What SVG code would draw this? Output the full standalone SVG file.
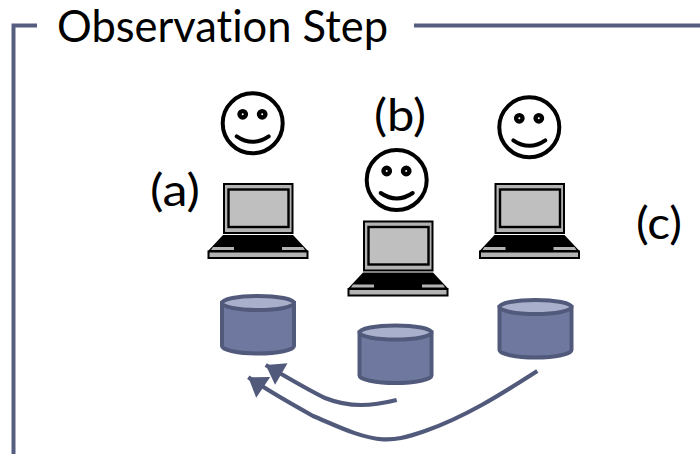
<svg xmlns="http://www.w3.org/2000/svg" width="700" height="454" viewBox="0 0 700 454">
<style>
text{font-family:"Lato","Open Sans","Liberation Sans",sans-serif;font-size:44px;fill:#000;font-variant-ligatures:none}
.frame{fill:none;stroke:#565e80;stroke-width:4}
.conn{fill:none;stroke:#525a7c;stroke-width:4.2;marker-end:url(#ah)}
.face{fill:#fff;stroke:#000;stroke-width:4}
.eye{fill:#fff;stroke:#000;stroke-width:4.4}
.mouth{fill:none;stroke:#000;stroke-width:4;stroke-linecap:round}
.lid{fill:#b3b3b3;stroke:#000;stroke-width:2}
.scr{fill:#bfbfbf;stroke:#000;stroke-width:2.4}
.kb{fill:#000}
.slab{fill:#b3b3b3;stroke:#000;stroke-width:2}
.cb{fill:#6f799f;stroke:#525a7c;stroke-width:4}
.ct{fill:#a9b0cb;stroke:#525a7c;stroke-width:4}
</style>
<defs>
<marker id="ah" markerUnits="userSpaceOnUse" markerWidth="24" markerHeight="28" refX="18" refY="12.500" orient="auto" overflow="visible"><path d="M0 0L18 12.500L0 25Z" fill="#525a7c"/></marker>
<g id="smile"><circle class="face" cx="0" cy="0" r="30"/><circle class="eye" cx="-10" cy="-9" r="3.2"/><circle class="eye" cx="9.500" cy="-9" r="3.2"/><path class="mouth" d="M-16 13Q0 24 16 13"/></g>
<g id="laptop"><rect class="lid" x="224" y="184" width="68.500" height="49"/><rect class="scr" x="228.500" y="189.500" width="60" height="37.500"/><path class="kb" d="M223 235H293L308 251H208Z"/><rect x="209" y="246" width="24" height="4" fill="#b3b3b3" opacity="0"/><path d="M213 247H234V250H211ZM282 247H303L305 250H282Z" fill="#b3b3b3"/><rect class="slab" x="208.500" y="251.500" width="99" height="6.500"/></g>
<g id="cyl"><path class="cb" d="M0 7.500V50.500C0 54.500 16 58 36 58S72 54.500 72 50.500V7.500Z"/><ellipse class="ct" cx="36" cy="7.500" rx="36" ry="7"/></g>
</defs>
<g id="frame"><path class="frame" d="M37 25.500H13.500V454"/><path class="frame" d="M414 25.500H700"/></g>
<g id="title"><text x="57" y="42" textLength="331" lengthAdjust="spacingAndGlyphs" font-size="37">Observation Step</text></g>
<g id="label-a"><text x="150" y="206" textLength="50" lengthAdjust="spacingAndGlyphs">(a)</text></g>
<g id="label-b"><text x="374" y="131" textLength="52" lengthAdjust="spacingAndGlyphs">(b)</text></g>
<g id="label-c"><text x="636" y="239" textLength="46" lengthAdjust="spacingAndGlyphs">(c)</text></g>
<g id="user-a"><use href="#smile" x="252.700" y="123.300"/></g>
<g id="user-b"><use href="#smile" x="396.700" y="180"/></g>
<g id="user-c"><use href="#smile" x="529.300" y="127.300"/></g>
<g id="laptop-a"><use href="#laptop"/></g>
<g id="laptop-b"><use href="#laptop" x="140" y="37.500"/></g>
<g id="laptop-c"><use href="#laptop" x="271.500" y="0"/></g>
<g id="db-a"><use href="#cyl" x="222" y="295.500"/></g>
<g id="db-b"><use href="#cyl" x="359.500" y="325"/></g>
<g id="db-c"><use href="#cyl" x="499.500" y="299.500"/></g>
<g id="connectors">
<path class="conn" d="M396.700 400C372 406 350 408 325 398C310 391 290 379 265.700 365"/>
<path class="conn" d="M537.300 371C500 395 465 417 425 431C405 438 395 440 383 439.300C360 438 335 425 313 416C295 406 270 392 248.300 377.300"/>
</g>
</svg>
